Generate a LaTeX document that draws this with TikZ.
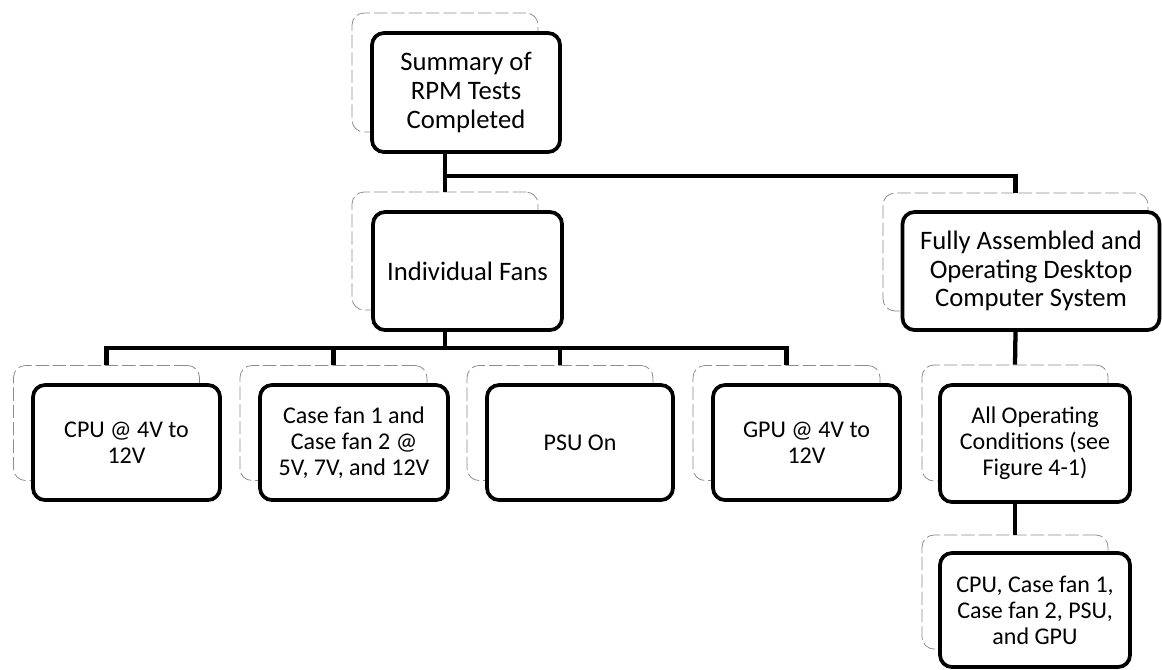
\documentclass[tikz,border=0pt]{standalone}
\usepackage{fontspec}
\setmainfont{Carlito}
\usetikzlibrary{calc}
\newcommand\bigtxt{\fontsize{20}{21.5}\selectfont}
\newcommand\smalltxt{\fontsize{18}{19.5}\selectfont}
\tikzset{
  sz/.style 2 args={minimum width=#1*0.75pt, minimum height=#2*0.75pt},
  frontbox/.style={draw=black, fill=white, line width=2.8pt, rounded corners=9pt, align=center, inner sep=2pt},
  bigbox/.style={frontbox, font=\bigtxt},
  smallbox/.style={frontbox, font=\smalltxt},
  backbox/.style={draw=black!45, line width=0.6pt, rounded corners=9pt, dash pattern=on 10pt off 3pt},
  conn/.style={draw=black, line width=3.2pt},
}
\begin{document}
\begin{tikzpicture}[x=0.75pt,y=-0.75pt]
\useasboundingbox (0,0) rectangle (1162,669);
% back boxes
\node[backbox, sz={186}{119}] (sumb) at (445,72.5) {};
\node[backbox, sz={186}{118}] (ifb)  at (445,251) {};
\node[backbox, sz={265}{118}] (fab)  at (1015.5,252) {};
\node[backbox, sz={186}{115}] (cpub) at (106.5,423) {};
\node[backbox, sz={187}{115}] (caseb) at (333.5,423) {};
\node[backbox, sz={186}{115}] (psub) at (560,423) {};
\node[backbox, sz={187}{115}] (gpub) at (786.5,423) {};
\node[backbox, sz={186}{116}] (aob)  at (1015,423) {};
\node[backbox, sz={186}{114}] (cfb)  at (1015,592) {};
% bus points
\coordinate (bus1) at (445,176);
\coordinate (bus2) at (445,348);
% front boxes
\node[bigbox, sz={188}{119}] (sum) at (466,92.5) {Summary of\\RPM Tests\\Completed};
\node[bigbox, sz={189}{118}] (if) at (467.5,271) {Individual Fans};
\node[bigbox, sz={257}{118}] (fa) at (1031,271) {Fully Assembled and\\Operating Desktop\\Computer System};
\node[smallbox, sz={187}{115}] (cpu) at (126.5,442.5) {CPU @ 4V to\\12V};
\node[smallbox, sz={188}{115}] (case) at (354,442.5) {Case fan 1 and\\Case fan 2 @\\5V, 7V, and 12V};
\node[smallbox, sz={186}{115}] (psu) at (580,442.5) {PSU On};
\node[smallbox, sz={187}{115}] (gpu) at (806.5,442.5) {GPU @ 4V to\\12V};
\node[smallbox, sz={190}{117}] (ao) at (1035,443.5) {All Operating\\Conditions (see\\Figure 4-1)};
\node[smallbox, sz={190}{114}] (cf) at (1035,610) {CPU, Case fan 1,\\Case fan 2, PSU,\\and GPU};
% connector lines
\draw[conn] (sum.south -| sumb.south) -- (bus1) -- (ifb.north);
\draw[conn] (bus1) -| (fab.north);
\draw[conn] (if.south -| ifb.south) -- (bus2);
\draw[conn] (cpub.north) |- (bus2);
\draw[conn] (caseb.north) -- (caseb.north |- bus2);
\draw[conn] (psub.north) -- (psub.north |- bus2);
\draw[conn] (gpub.north) |- (bus2);
\draw[conn] (fa.south -| fab.south) -- (aob.north);
\draw[conn] (ao.south -| aob.south) -- (cfb.north);
\end{tikzpicture}
\end{document}
